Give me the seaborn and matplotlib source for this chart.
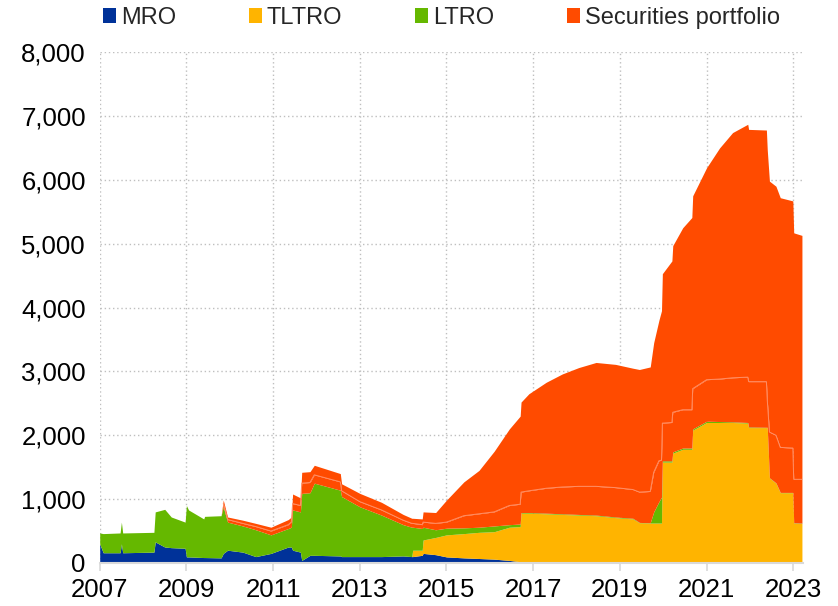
import matplotlib
matplotlib.use("Agg")
import numpy as np
import matplotlib.pyplot as plt
import seaborn as sns
from matplotlib.patches import Patch
from matplotlib.ticker import FuncFormatter, MultipleLocator

# ── Data (EUR billions) ───────────────────────────────────────────────────────
dates = [
    2007.00, 2007.08, 2007.47, 2007.50, 2007.53, 2008.25, 2008.28, 2008.50,
    2008.65, 2008.97, 2009.00, 2009.05, 2009.40, 2009.42, 2009.80, 2009.85,
    2009.95, 2010.30, 2010.60, 2010.95, 2011.35, 2011.42, 2011.45, 2011.63,
    2011.66, 2011.85, 2011.95, 2012.55, 2012.58, 2013.00, 2013.50, 2014.00,
    2014.20, 2014.22, 2014.44, 2014.46, 2014.75, 2015.00, 2015.40, 2015.75,
    2016.10, 2016.45, 2016.70, 2016.72, 2016.90, 2017.30, 2017.67, 2018.05,
    2018.45, 2018.90, 2019.30, 2019.45, 2019.70, 2019.78, 2019.90, 2019.96,
    2019.98, 2020.20, 2020.22, 2020.45, 2020.66, 2020.68, 2021.00, 2021.30,
    2021.60, 2021.95, 2021.97, 2022.38, 2022.40, 2022.45, 2022.60, 2022.70,
    2022.99, 2023.01, 2023.20,
]
mro = [
    300, 160, 160, 300, 160, 170, 330, 250, 240, 230, 95, 95, 85, 85, 80, 150,
    200, 170, 100, 150, 250, 250, 200, 170, 40, 120, 120, 110, 100, 100, 100, 110,
    100, 100, 120, 150, 130, 95, 80, 70, 60, 40, 20, 10, 5, 0, 0, 0,
    0, 0, 0, 0, 0, 0, 0, 0, 0, 0, 0, 0, 0, 0, 0, 0,
    0, 0, 0, 0, 0, 0, 0, 0, 0, 0, 0,
]
tltro = [
    0, 0, 0, 0, 0, 0, 0, 0, 0, 0, 0, 0, 0, 0, 0, 0,
    0, 0, 0, 0, 0, 0, 0, 0, 0, 0, 0, 0, 0, 0, 0, 0,
    0, 100, 80, 210, 270, 345, 380, 410, 430, 520, 550, 770, 775, 770, 760, 750,
    740, 710, 690, 630, 625, 625, 625, 625, 1580, 1580, 1720, 1780, 1780, 2080, 2200, 2200,
    2200, 2190, 2120, 2120, 2120, 1330, 1250, 1100, 1100, 625, 620,
]
ltro = [
    170, 300, 310, 340, 310, 310, 470, 590, 480, 410, 805, 735, 605, 645, 660, 730,
    440, 410, 420, 290, 290, 310, 630, 630, 1050, 980, 1130, 1030, 940, 780, 650, 490,
    460, 360, 340, 200, 120, 105, 90, 80, 90, 40, 40, 10, 10, 10, 10, 10,
    10, 10, 10, 5, 5, 175, 335, 405, 20, 20, 20, 20, 20, 20, 20, 15,
    10, 10, 10, 5, 5, 5, 5, 5, 5, 5, 5,
]
# securities portfolio, shown as two stacked parts of the same colour
sec_lower = [
    0, 0, 0, 0, 0, 0, 0, 0, 0, 0, 0, 0, 0, 0, 0, 50,
    40, 40, 50, 60, 60, 80, 100, 100, 160, 160, 130, 130, 90, 80, 80, 70,
    60, 60, 60, 80, 100, 95, 190, 210, 220, 300, 310, 320, 340, 390, 420, 440,
    450, 460, 450, 475, 490, 620, 640, 580, 590, 600, 620, 600, 600, 630, 650, 665,
    690, 710, 710, 715, 425, 715, 745, 705, 695, 680, 685,
]
sec_upper = [
    0, 0, 0, 0, 0, 0, 0, 0, 0, 0, 0, 0, 0, 0, 0, 55,
    40, 50, 50, 60, 80, 80, 150, 120, 170, 170, 150, 130, 110, 130, 120, 90,
    80, 80, 90, 160, 170, 345, 530, 680, 950, 1200, 1380, 1410, 1520, 1660, 1770, 1860,
    1940, 1930, 1900, 1920, 1950, 2030, 2200, 2340, 2340, 2530, 2610, 2850, 3010, 3020, 3320, 3620,
    3840, 3960, 3950, 3940, 3920, 3930, 3900, 3910, 3870, 3860, 3820,
]

series_names = ["MRO", "TLTRO", "LTRO", "Securities portfolio"]
series_colors = ["#003299", "#FFB400", "#65B800", "#FF4B00"]
year_ticks = [2007, 2009, 2011, 2013, 2015, 2017, 2019, 2021, 2023]

# ── Figure ────────────────────────────────────────────────────────────────────
sns.set_theme(style="white")
plt.rcParams["font.family"] = ["Liberation Sans", "DejaVu Sans"]

fig, ax = plt.subplots(figsize=(8.38, 6.06), dpi=100)
fig.subplots_adjust(left=0.119, right=0.958, bottom=0.071, top=0.914)

x = np.array(dates)
ax.stackplot(
    x, mro, tltro, ltro, sec_lower, sec_upper,
    colors=series_colors + [series_colors[3]],
    linewidth=0,
)

# thin light seam inside the securities block
seam = np.array(mro) + np.array(tltro) + np.array(ltro) + np.array(sec_lower)
keep = x >= 2009.85
sns.lineplot(x=x[keep], y=seam[keep], color="#FF8F66", linewidth=0.7,
             ax=ax, legend=False)

ax.set_xlim(2007, 2023.22)
ax.set_ylim(0, 8000)
ax.set_xticks(year_ticks)
ax.yaxis.set_major_locator(MultipleLocator(1000))
ax.xaxis.set_major_formatter(FuncFormatter(lambda v, p: f"{int(round(v))}"))
ax.yaxis.set_major_formatter(FuncFormatter(lambda v, p: f"{int(v):,}"))

ax.set_axisbelow(True)
ax.grid(True, color="#BFBFBF", linestyle=(0, (1, 2)), linewidth=1)

for side in ["top", "right", "left"]:
    ax.spines[side].set_visible(False)
ax.spines["bottom"].set_color("#D9D9D9")
ax.spines["bottom"].set_linewidth(1.5)

ax.tick_params(axis="x", which="both", bottom=True, length=6, width=1.2,
               color="#D9D9D9", labelsize=18.5, pad=5, labelcolor="black")
ax.tick_params(axis="y", length=0, labelsize=18.5, pad=10, labelcolor="black")
ax.set_xlabel("")
ax.set_ylabel("")

handles = [Patch(facecolor=c, edgecolor="none") for c in series_colors]
fig.legend(
    handles, series_names,
    loc="upper left", bbox_to_anchor=(0.106, 1.012),
    ncol=4, frameon=False, fontsize=17,
    handlelength=0.55, handleheight=0.55, handletextpad=0.2,
    columnspacing=3.1, borderaxespad=0.2,
)

fig.savefig("out.png", dpi=100)
